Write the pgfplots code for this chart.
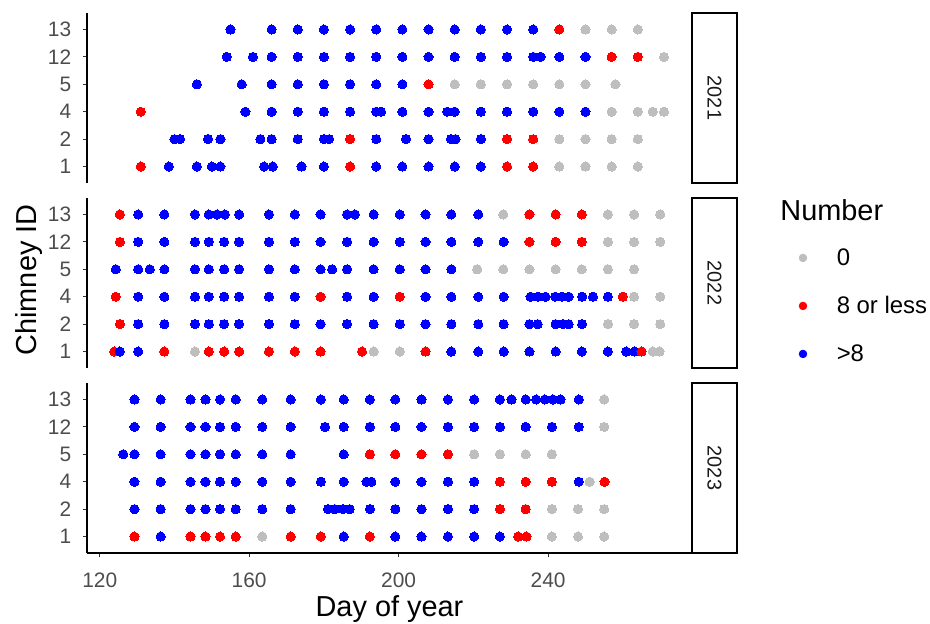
\documentclass[border=0pt]{standalone}
\usepackage{pgfplots}
\pgfplotsset{compat=1.18}
\usepackage{fontspec}
\setmainfont{Liberation Sans}
\definecolor{ggray}{RGB}{190,190,190}
\definecolor{gred}{RGB}{255,0,0}
\definecolor{gblue}{RGB}{0,0,255}
\definecolor{gtick}{RGB}{77,77,77}
\definecolor{gstrip}{RGB}{26,26,26}
\pgfplotsset{
 panel/.style={
   scale only axis, width=302.5bp, height=85bp,
   xmin=116.6, xmax=278.5, ymin=0.4, ymax=6.6,
   ytick={1,...,6}, yticklabels={1,2,4,5,12,13},
   axis x line*=bottom, axis y line*=left,
   axis line style={-, black, line width=0.55bp},
   tick align=outside, major tick length=2.2bp,
   tick style={black!80, line width=0.55bp},
   yticklabel style={font=\fontsize{10.5}{12}\selectfont, text=gtick, anchor=east, inner sep=0pt, xshift=-5.5bp},
   clip=false, anchor=south west,
 },
 pts/.style={only marks, mark=*, mark size=2.3bp, mark options={draw=#1, fill=#1, line width=0pt}, forget plot},
}
\begin{document}
\begin{tikzpicture}
\path[use as bounding box] (0,0) rectangle (465bp,312bp);
% ---------------- 2021
\begin{axis}[panel, at={(43.5bp,220.5bp)}, hide x axis]
\addplot[pts=ggray] coordinates {(250,6)(257,6)(264,6) (271,5)
 (215,4)(222,4)(229,4)(236,4)(243,4)(250,4)(258,4)
 (257,3)(264,3)(268,3)(271,3)
 (243,2)(250,2)(257,2)(264,2)
 (243,1)(250,1)(257,1)(264,1)};
\addplot[pts=gred] coordinates {(243,6) (257,5)(264,5) (208,4) (131,3)
 (187,2)(229,2)(236,2) (131,1)(187,1)(229,1)(236,1)};
\addplot[pts=gblue] coordinates {
 (155,6)(166,6)(173,6)(180,6)(187,6)(194,6)(201,6)(208,6)(215,6)(222,6)(229,6)(236,6)
 (154,5)(161,5)(166,5)(173,5)(180,5)(187,5)(194,5)(201,5)(208,5)(215,5)(222,5)(229,5)(236,5)(238,5)(243,5)(250,5)
 (146,4)(158,4)(166,4)(173,4)(180,4)(187,4)(194,4)(201,4)
 (159,3)(166,3)(173,3)(180,3)(187,3)(194,3)(195.3,3)(201,3)(208,3)(213,3)(215,3)(222,3)(229,3)(236,3)(243,3)(250,3)
 (140,2)(141.5,2)(149,2)(152.3,2)(163,2)(166,2)(173,2)(180,2)(181.4,2)(194,2)(202,2)(208,2)(214,2)(215.2,2)(222,2)
 (138.5,1)(146,1)(150,1)(152.3,1)(164,1)(166.3,1)(174,1)(180,1)(194,1)(201,1)(208,1)(215,1)(222,1)};
\end{axis}
% ---------------- 2022
\begin{axis}[panel, at={(43.5bp,128bp)}, hide x axis,
  legend style={draw=none, fill=none, font=\fontsize{12}{14}\selectfont,
    at={(1.1765,0.365)}, anchor=west, inner sep=0pt, row sep=14bp,
    nodes={text height=8bp, text depth=0bp, inner ysep=1bp},
    /tikz/every odd column/.append style={column sep=13bp}},
  legend cell align=left]
\addlegendimage{only marks, mark=*, mark size=1.9bp, ggray}
\addlegendentry{0}
\addlegendimage{only marks, mark=*, mark size=1.9bp, gred}
\addlegendentry{8 or less}
\addlegendimage{only marks, mark=*, mark size=1.9bp, gblue}
\addlegendentry{>8}
\addplot[pts=ggray] coordinates {(228,6)(256,6)(263,6)(270,6)
 (256,5)(263,5)(270,5)
 (221,4)(228,4)(235,4)(242,4)(249,4)(256,4)(263,4)
 (263,3)(270,3)
 (256,2)(263,2)(270,2)
 (145.5,1)(193.3,1)(200.3,1)(268,1)(269.8,1)};
\addplot[pts=gred] coordinates {(125.4,6)(235,6)(242,6)(249,6)
 (125.4,5)(235,5)(242,5)(249,5)
 (124.3,3)(179.1,3)(200.3,3)(260,3)
 (125.4,2)
 (123.9,1)(137.3,1)(149.2,1)(153.3,1)(157.3,1)(165.3,1)(172.2,1)(179.1,1)(190.2,1)(207.2,1)};
\addplot[pts=gblue] coordinates {
 (130.3,6)(137.3,6)(145.5,6)(149.2,6)(151.4,6)(153.5,6)(157.3,6)(165.3,6)(172.2,6)(179.1,6)(186.2,6)(188.3,6)(193.3,6)(200.3,6)(207.2,6)(214.1,6)(221.3,6)
 (130.3,5)(137.3,5)(145.5,5)(149.2,5)(153.3,5)(157.3,5)(165.3,5)(172.2,5)(179.1,5)(186.2,5)(193.3,5)(200.3,5)(207.2,5)(214.1,5)(221.3,5)(228.1,5)
 (124.3,4)(130.3,4)(133.4,4)(137.3,4)(145.5,4)(149.2,4)(153.3,4)(157.3,4)(165.3,4)(172.2,4)(179.1,4)(182.2,4)(186.2,4)(193.3,4)(200.3,4)(207.2,4)(214.1,4)
 (130.3,3)(137.3,3)(145.5,3)(149.2,3)(153.3,3)(157.3,3)(165.3,3)(172.2,3)(186.2,3)(193.3,3)(207.2,3)(214.1,3)(221.3,3)(228.1,3)(235.3,3)(237.3,3)(239.3,3)(241.9,3)(243.7,3)(245.5,3)(249.1,3)(252,3)(256,3)
 (130.3,2)(137.3,2)(145.5,2)(149.2,2)(153.3,2)(157.3,2)(165.3,2)(172.2,2)(179.1,2)(186.2,2)(193.3,2)(200.3,2)(207.2,2)(214.1,2)(221.3,2)(228.1,2)(235,2)(237.2,2)(242,2)(244,2)(245.5,2)(249.1,2)
 (125.4,1)(130.3,1)(214.1,1)(221.3,1)(228.1,1)(235,1)(242,1)(249,1)(256,1)(260.9,1)(263.1,1)};
\addplot[pts=gred] coordinates {(265,1)};
\end{axis}
% ---------------- 2023
\begin{axis}[panel, at={(43.5bp,35.5bp)},
  xtick={120,160,200,240}, xticklabels={120,160,200,240},
  xticklabel style={font=\fontsize{10.5}{12}\selectfont, text=gtick, anchor=base, inner sep=0pt, yshift=-15bp}]
\addplot[pts=ggray] coordinates {(255,6) (255,5)
 (220.2,4)(227.1,4)(234,4)(241,4)
 (251.1,3)
 (241,2)(248,2)(255,2)
 (163.5,1)(241,1)(248,1)(255,1)};
\addplot[pts=gred] coordinates {(192.3,4)(199.1,4)(206.1,4)(213.2,4)
 (227.1,3)(234,3)(241,3)(255.1,3)
 (227.1,2)(234,2)
 (129.3,1)(144.3,1)(148.3,1)(152.2,1)(156.4,1)(171.1,1)(179.2,1)(192.3,1)(232,1)(234.2,1)};
\addplot[pts=gblue] coordinates {
 (129.3,6)(136.3,6)(144.3,6)(148.3,6)(152.2,6)(156.4,6)(163.5,6)(171.1,6)(179.2,6)(185.3,6)(192.3,6)(199.1,6)(206.1,6)(213.2,6)(220.2,6)(227.1,6)(230.2,6)(234,6)(236.8,6)(239.1,6)(241.3,6)(243.3,6)(248.2,6)
 (129.3,5)(136.3,5)(144.3,5)(148.3,5)(152.2,5)(156.4,5)(163.5,5)(171.1,5)(180.3,5)(185.3,5)(192.3,5)(199.1,5)(206.1,5)(213.2,5)(220.2,5)(227.1,5)(234,5)(241,5)(248.2,5)
 (126.3,4)(129.3,4)(136.3,4)(144.3,4)(148.3,4)(152.2,4)(156.4,4)(163.5,4)(171.1,4)(185.3,4)
 (129.3,3)(136.3,3)(144.3,3)(148.3,3)(152.2,3)(156.4,3)(163.5,3)(171.1,3)(179.2,3)(185.3,3)(191.4,3)(192.7,3)(199.1,3)(206.1,3)(213.2,3)(220.2,3)(248.2,3)
 (129.3,2)(136.3,2)(144.3,2)(148.3,2)(152.2,2)(156.4,2)(163.5,2)(171.1,2)(181.1,2)(182.9,2)(185.1,2)(186.9,2)(192.3,2)(199.1,2)(206.1,2)(213.2,2)(220.2,2)
 (136.3,1)(185.3,1)(199.1,1)(206.1,1)(213.2,1)(220.2,1)(227.1,1)};
\end{axis}
% strips
\foreach \yb/\lab in {220.5/2021, 128/2022, 35.5/2023}{
  \draw[line width=0.8bp, fill=white] (346bp,\yb bp) rectangle (368.5bp,\yb bp+85bp);
  \node[rotate=-90, font=\fontsize{10}{12}\selectfont, text=gstrip] at (357.25bp,\yb bp+42.5bp) {\lab};
}
% titles
\node[anchor=base, font=\fontsize{14.5}{17}\selectfont] at (194.75bp,4bp) {Day of year};
\node[anchor=base, rotate=90, font=\fontsize{14.5}{17}\selectfont] at (18bp,172bp) {Chimney ID};
\node[anchor=west, font=\fontsize{14.5}{17}\selectfont, inner sep=0pt] at (390bp,207bp) {Number};
\end{tikzpicture}
\end{document}
